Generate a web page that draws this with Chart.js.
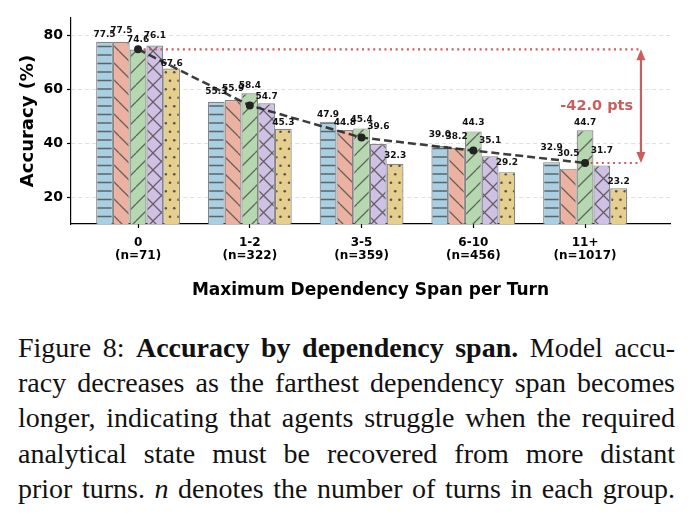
<!DOCTYPE html>
<html>
<head>
<meta charset="utf-8">
<script src="https://cdn.jsdelivr.net/npm/chart.js@4.4.1/dist/chart.umd.min.js"></script>
<style>
  html, body { margin: 0; padding: 0; background: #fff; }
  body { width: 693px; height: 521px; position: relative; overflow: hidden; }
  #wrap { position: absolute; left: 0; top: 0; width: 693px; height: 305px; }
  #caption {
    position: absolute; left: 18px; top: 330px; width: 657px;
    font-family: "Liberation Serif", "DejaVu Serif", serif;
    font-size: 28px; line-height: 35.2px; color: #111;
  }
  #caption div { text-align: justify; text-align-last: justify; white-space: nowrap; }
</style>
</head>
<body>
<div id="wrap"><canvas id="chart" width="693" height="305"></canvas></div>
<div id="caption">
  <div>Figure 8: <b>Accuracy by dependency span.</b> Model accu-</div>
  <div>racy decreases as the farthest dependency span becomes</div>
  <div>longer, indicating that agents struggle when the required</div>
  <div>analytical state must be recovered from more distant</div>
  <div>prior turns. <i>n</i> denotes the number of turns in each group.</div>
</div>
<script>
// --- data --------------------------------------------------------------------
const spanLabels = ["0", "1-2", "3-5", "6-10", "11+"];
const groupSizes = ["(n=71)", "(n=322)", "(n=359)", "(n=456)", "(n=1017)"];
const yTicks = [20, 40, 60, 80];

// five models, one value per span group
const model1 = [77.5, 55.3, 47.9, 39.0, 32.9];
const model2 = [77.5, 55.9, 44.8, 38.2, 30.5];
const model3 = [74.6, 58.4, 45.4, 44.3, 44.7];
const model4 = [76.1, 54.7, 39.6, 35.1, 31.7];
const model5 = [67.6, 45.3, 32.3, 29.2, 23.2];

// dashed trend line (group mean)
const meanValues = [74.7, 53.9, 42.0, 37.2, 32.6];

// drop annotation: arrow column and its label
const dropX = 4.5;
const dropText = "-42.0 pts";

// --- helpers -----------------------------------------------------------------
const FONT = "'DejaVu Sans', sans-serif";
const RED = "#cd5c5c";

// hatch fill like matplotlib's  -  \\  /  x  .
function hatch(bg, kind) {
  const s = 17;
  const c = document.createElement("canvas");
  c.width = s; c.height = s;
  const g = c.getContext("2d");
  g.fillStyle = bg;
  g.fillRect(0, 0, s, s);
  g.strokeStyle = "rgba(80,80,80,0.85)";
  g.fillStyle = "rgba(70,70,70,0.9)";
  g.lineWidth = 1.3;
  g.beginPath();
  if (kind === "-") {
    g.moveTo(0, 4); g.lineTo(s, 4);
    g.moveTo(0, 12.5); g.lineTo(s, 12.5);
  }
  for (let k = -1; k <= 1; k++) {
    if (kind === "/" || kind === "x") { g.moveTo(k * s, s); g.lineTo(k * s + s, 0); }
    if (kind === "\\" || kind === "x") { g.moveTo(k * s, 0); g.lineTo(k * s + s, s); }
  }
  g.stroke();
  if (kind === ".") {
    const pts = [[4.25, 4.25], [12.75, 4.25], [0, 12.75], [8.5, 12.75], [17, 12.75]];
    pts.forEach(([x, y]) => { g.beginPath(); g.arc(x, y, 1.3, 0, Math.PI * 2); g.fill(); });
  }
  return g.createPattern(c, "repeat");
}

// how far (px) each value label sits above its bar, as in the figure
const labelLift = [
  [7, 10, 7, 11, 15],
  [11, 11, 7, 11, 15],
  [10, 8, 9, 9, 8],
  [10, 7, 17, 16, 15],
  [5, 6, 8, 10, 7],
];

const series = [
  { data: model1, bg: "#a9d0e2", kind: "-" },
  { data: model2, bg: "#ebb2a2", kind: "\\" },
  { data: model3, bg: "#b5d8b0", kind: "/" },
  { data: model4, bg: "#cfc1e4", kind: "x" },
  { data: model5, bg: "#e6cf8e", kind: "." },
];

const barSets = series.map((s) => ({
  type: "bar",
  data: s.data.map((v, i) => ({ x: i, y: v })),
  backgroundColor: hatch(s.bg, s.kind),
  borderColor: "rgba(120,120,120,0.9)",
  borderWidth: 1.2,
  borderSkipped: "bottom",
  categoryPercentage: 0.75,
  barPercentage: 1.0,
  order: 3,
}));

const meanSet = {
  type: "line",
  data: meanValues.map((v, i) => ({ x: i, y: v })),
  borderColor: "rgba(40,40,40,0.9)",
  borderWidth: 2.5,
  borderDash: [8, 4],
  pointRadius: 4,
  pointBorderWidth: 0,
  pointBackgroundColor: "#222",
  order: 1,
};

const topRef = {
  type: "line",
  data: [{ x: 0, y: meanValues[0] }, { x: dropX, y: meanValues[0] }],
  borderColor: RED, borderWidth: 2.2, borderDash: [2, 3.6], pointRadius: 0, order: 2,
};
const lowRef = {
  type: "line",
  data: [{ x: 4, y: meanValues[4] }, { x: dropX, y: meanValues[4] }],
  borderColor: RED, borderWidth: 2.2, borderDash: [2, 3.6], pointRadius: 0, order: 2,
};

// value labels above bars, plus the double arrow and its label
const overlay = {
  id: "overlay",
  afterDatasetsDraw(chart) {
    const ctx = chart.ctx;
    ctx.save();
    ctx.fillStyle = "#111";
    ctx.font = `bold 9px ${FONT}`;
    ctx.textAlign = "center";
    ctx.textBaseline = "middle";
    for (let d = 0; d < series.length; d++) {
      chart.getDatasetMeta(d).data.forEach((bar, i) => {
        ctx.fillText(series[d].data[i].toFixed(1), bar.x, bar.y - labelLift[d][i]);
      });
    }
    const xs = chart.scales.x, ys = chart.scales.y;
    const ax = xs.getPixelForValue(dropX);
    const y1 = ys.getPixelForValue(meanValues[0]);
    const y2 = ys.getPixelForValue(meanValues[4]);
    ctx.strokeStyle = RED; ctx.fillStyle = RED; ctx.lineWidth = 2.2;
    ctx.beginPath(); ctx.moveTo(ax, y1 + 8); ctx.lineTo(ax, y2 - 8); ctx.stroke();
    ctx.beginPath(); ctx.moveTo(ax, y1); ctx.lineTo(ax - 4.5, y1 + 11); ctx.lineTo(ax + 4.5, y1 + 11); ctx.fill();
    ctx.beginPath(); ctx.moveTo(ax, y2); ctx.lineTo(ax - 4.5, y2 - 11); ctx.lineTo(ax + 4.5, y2 - 11); ctx.fill();
    ctx.font = `bold 14.5px ${FONT}`;
    ctx.textAlign = "right"; ctx.textBaseline = "middle";
    ctx.fillText(dropText, xs.getPixelForValue(4.43), (y1 + y2) / 2);
    ctx.restore();
  },
};

new Chart(document.getElementById("chart"), {
  data: { datasets: [...barSets, meanSet, topRef, lowRef] },
  options: {
    responsive: false,
    animation: false,
    events: [],
    layout: { padding: { left: 0, right: 23, top: 18, bottom: 0 } },
    plugins: { legend: { display: false }, tooltip: { enabled: false } },
    scales: {
      x: {
        type: "linear",
        min: -0.6, max: 4.76,
        offset: false,
        bounds: "data",
        afterBuildTicks: (s) => { s.ticks = spanLabels.map((_, i) => ({ value: i })); },
        afterFit: (s) => { s.height = 81; },
        grid: { display: true, offset: false, drawOnChartArea: false, drawTicks: true, tickLength: 4, tickColor: "#000", tickWidth: 1.2 },
        border: { display: true, color: "#000", width: 1.2 },
        ticks: {
          autoSkip: false, maxRotation: 0, padding: 8, color: "#000",
          font: { family: FONT, weight: "bold", size: 12, lineHeight: 1.1 },
          callback: (v, i) => [spanLabels[i], groupSizes[i]],
        },
        title: {
          display: true, text: "Maximum Dependency Span per Turn", color: "#000",
          font: { family: FONT, weight: "bold", size: 17 },
          padding: { top: 0, bottom: 4 },
        },
      },
      y: {
        min: 10, max: 86.3,
        afterBuildTicks: (s) => { s.ticks = yTicks.map((v) => ({ value: v })); },
        afterFit: (s) => { s.width = 71; },
        grid: { color: "rgba(0,0,0,0.12)", lineWidth: 1, tickLength: 4, tickColor: "#000", tickWidth: 1.2, tickBorderDash: [] },
        border: { display: true, color: "#000", width: 1.2, dash: [4, 3] },
        ticks: { padding: 4, color: "#000", font: { family: FONT, weight: "bold", size: 14 } },
        title: {
          display: true, text: "Accuracy (%)", color: "#000",
          font: { family: FONT, weight: "bold", size: 18 },
          padding: { top: 18, bottom: 0 },
        },
      },
    },
  },
  plugins: [overlay],
});
</script>
</body>
</html>
